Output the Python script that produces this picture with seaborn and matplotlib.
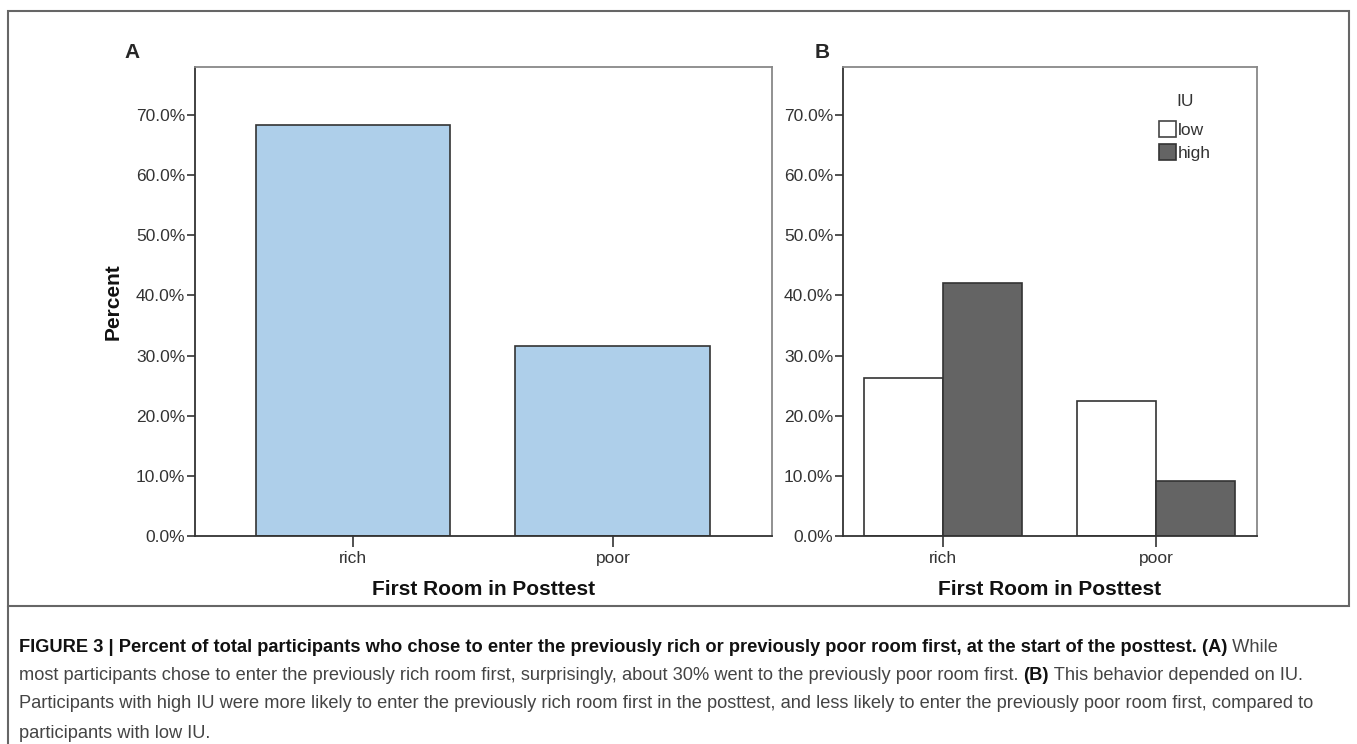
import matplotlib
matplotlib.use("Agg")
import matplotlib.pyplot as plt
import matplotlib.font_manager as fm
from matplotlib.patches import Rectangle
from matplotlib.lines import Line2D
from matplotlib.ticker import FuncFormatter
import seaborn as sns
import pandas as pd

# data
rooms = ["rich", "poor"]
pct_total = [68.4, 31.6]
iu_levels = ["low", "high"]
pct_low = [26.3, 22.4]
pct_high = [42.1, 9.2]
yticks = [0, 10, 20, 30, 40, 50, 60, 70]

sns.set_style("white")
plt.rcParams["font.family"] = ["Liberation Sans", "DejaVu Sans"]

W, H = 1357, 744
fig = plt.figure(figsize=(W / 100, H / 100), dpi=100)

def px_axes(x0, x1, y0, y1):
    return fig.add_axes([x0 / W, 1 - y1 / H, (x1 - x0) / W, (y1 - y0) / H])

axA = px_axes(195, 772, 67, 536)
axB = px_axes(843, 1257, 67, 536)

dfA = pd.DataFrame({"room": rooms, "pct": pct_total})
sns.barplot(data=dfA, x="room", y="pct", order=rooms, color="#aecfea",
            saturation=1, width=0.75, edgecolor="#333333", linewidth=1.2, ax=axA)

dfB = pd.DataFrame({
    "room": rooms * 2,
    "IU": [iu_levels[0]] * 2 + [iu_levels[1]] * 2,
    "pct": pct_low + pct_high,
})
sns.barplot(data=dfB, x="room", y="pct", hue="IU", order=rooms, hue_order=iu_levels,
            palette=["#ffffff", "#646464"], saturation=1, width=0.74,
            edgecolor="#333333", linewidth=1.2, ax=axB)

fmt = FuncFormatter(lambda v, p: f"{v:.1f}%")
for ax, xl in ((axA, (-0.608, 1.612)), (axB, (-0.469, 1.474))):
    ax.set_xlim(*xl)
    ax.set_ylim(0, 78)
    ax.set_yticks(yticks)
    ax.yaxis.set_major_formatter(fmt)
    ax.tick_params(axis="y", left=True, length=6, width=1.2, color="#333333",
                   labelsize=12.5, labelcolor="#333333", pad=1)
    ax.tick_params(axis="x", bottom=True, length=8, width=1.2, color="#333333",
                   labelsize=12.5, labelcolor="#333333", pad=3)
    for s in ("left", "bottom"):
        ax.spines[s].set_color("#333333")
        ax.spines[s].set_linewidth(1.3)
    for s in ("top", "right"):
        ax.spines[s].set_color("#888888")
        ax.spines[s].set_linewidth(1.3)
    ax.set_xlabel("First Room in Posttest", fontsize=15, fontweight="bold", color="#111111")
    ax.xaxis.set_label_coords(0.5, -0.093)
    ax.set_ylabel("")

axA.set_ylabel("Percent", fontsize=15, fontweight="bold", color="#111111")
axA.yaxis.set_label_coords(-0.125, 0.5)

handles = [Rectangle((0, 0), 1, 1, facecolor="#ffffff", edgecolor="#444444", lw=1.2),
           Rectangle((0, 0), 1, 1, facecolor="#646464", edgecolor="#333333", lw=1.2)]
axB.get_legend().remove()
leg = axB.legend(handles, iu_levels, title="IU", loc="upper left",
                 bbox_to_anchor=(0.743, 0.962), frameon=False, fontsize=12.5,
                 title_fontsize=12.5, handlelength=0.95, handleheight=1.05,
                 handletextpad=0.1, labelspacing=0.35, borderpad=0)
leg.get_title().set_color("#333333")
leg._legend_box.sep = 9
for t in leg.get_texts():
    t.set_color("#333333")

fig.text(132 / W, 1 - 52 / H, "A", fontsize=15, fontweight="bold", ha="center", va="center")
fig.text(822 / W, 1 - 52 / H, "B", fontsize=15, fontweight="bold", ha="center", va="center")

# outer frame and caption rule
fig.add_artist(Rectangle((8 / W, 1 - 606 / H), (1349 - 8) / W, (606 - 11) / H,
                         transform=fig.transFigure, fill=False, edgecolor="#666666", lw=1.5))
fig.add_artist(Line2D([8 / W, 8 / W], [0, 1 - 606 / H], transform=fig.transFigure,
                      color="#666666", lw=1.5))

# caption
names = {f.name for f in fm.fontManager.ttflist}
cap_fam = ["Liberation Sans Narrow", "DejaVu Sans"] if "Liberation Sans Narrow" in names else ["Liberation Sans", "DejaVu Sans"]

lines = [
    [("FIGURE 3 | Percent of total participants who chose to enter the previously rich or previously poor room first, at the start of the posttest. (A)", "bold"),
     (" While", "normal")],
    [("most participants chose to enter the previously rich room first, surprisingly, about 30% went to the previously poor room first. ", "normal"),
     ("(B)", "bold"), (" This behavior depended on IU.", "normal")],
    [("Participants with high IU were more likely to enter the previously rich room first in the posttest, and less likely to enter the previously poor room first, compared to", "normal")],
    [("participants with low IU.", "normal")],
]
line_y = [647, 676, 704, 733]
renderer = fig.canvas.get_renderer()

# pick the caption size so the third line spans the same width as in the figure
probe = fig.text(0, 0, lines[2][0][0], fontsize=10, family=cap_fam)
cap_size = 10 * 1300 / probe.get_window_extent(renderer).width
probe.remove()

for y, runs in zip(line_y, lines):
    x = 19
    for txt, weight in runs:
        t = fig.text(x / W, 1 - y / H, txt, fontsize=cap_size, fontweight=weight,
                     family=cap_fam, va="center", ha="left",
                     color="#111111" if weight == "bold" else "#444444")
        x += t.get_window_extent(renderer).width

fig.savefig("out.png", dpi=100)
